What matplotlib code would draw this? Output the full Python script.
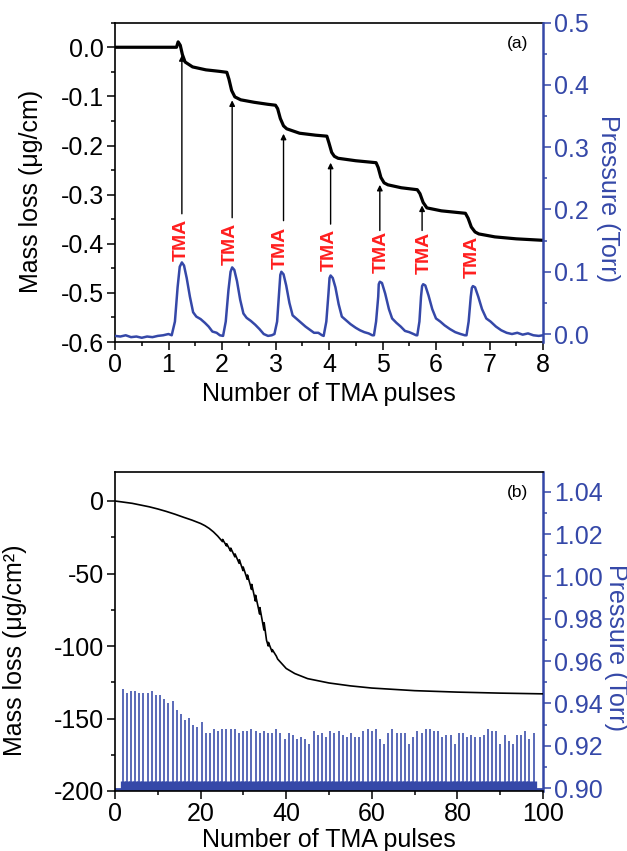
import numpy as np
import matplotlib
matplotlib.use("Agg")
import matplotlib.pyplot as plt
from matplotlib.ticker import MultipleLocator, FormatStrFormatter

plt.rcParams["font.family"] = ["Liberation Sans", "DejaVu Sans"]
plt.rcParams["axes.unicode_minus"] = False

BLUE = "#3548a8"
RED = "#ff1f1f"

# ---- panel (a): mass loss during 7 TMA pulses ----
mass_a_x = [0, 1.15, 1.18, 1.22, 1.26, 1.31, 1.45, 1.7, 1.95, 2.09, 2.13, 2.18, 2.24, 2.35,
            2.6, 2.85, 3.0, 3.04, 3.09, 3.15, 3.21, 3.45, 3.75, 3.96, 4.0, 4.05, 4.1, 4.17,
            4.5, 4.88, 4.92, 4.97, 5.03, 5.1, 5.35, 5.65, 5.7, 5.76, 5.83, 6.1, 6.55, 6.6,
            6.66, 6.73, 6.8, 7.1, 7.5, 8.0]
mass_a_y = [0.0, 0.0, 0.011, 0.004, -0.015, -0.030, -0.040, -0.046, -0.049, -0.051, -0.065,
            -0.088, -0.101, -0.107, -0.112, -0.116, -0.118, -0.125, -0.145, -0.160, -0.166,
            -0.175, -0.179, -0.181, -0.195, -0.214, -0.222, -0.226, -0.231, -0.235, -0.245,
            -0.265, -0.276, -0.280, -0.286, -0.290, -0.298, -0.316, -0.327, -0.333, -0.338,
            -0.348, -0.366, -0.376, -0.380, -0.386, -0.390, -0.393]

pres_a_x = [0.0, 0.1, 0.2, 0.3, 0.4, 0.5, 0.6, 0.7, 0.8, 0.9, 1.0,
            1.06, 1.12, 1.17, 1.21, 1.25, 1.29, 1.34, 1.40, 1.46, 1.52, 1.60, 1.68, 1.75, 1.82, 1.90, 1.96,
            2.02, 2.07, 2.12, 2.16, 2.19, 2.23, 2.28, 2.34, 2.40, 2.46, 2.54, 2.62, 2.70, 2.78, 2.86, 2.93,
            2.98, 3.03, 3.07, 3.09, 3.11, 3.15, 3.20, 3.26, 3.32, 3.40, 3.48, 3.56, 3.64, 3.72, 3.80, 3.87,
            3.90, 3.95, 3.99, 4.01, 4.03, 4.07, 4.12, 4.18, 4.24, 4.32, 4.40, 4.50, 4.58, 4.66, 4.74, 4.81,
            4.84, 4.88, 4.92, 4.93, 4.95, 4.99, 5.05, 5.12, 5.18, 5.26, 5.34, 5.42, 5.50, 5.58, 5.63,
            5.65, 5.69, 5.72, 5.74, 5.76, 5.80, 5.86, 5.93, 6.00, 6.08, 6.16, 6.26, 6.36, 6.46, 6.54,
            6.57, 6.61, 6.65, 6.67, 6.69, 6.73, 6.79, 6.86, 6.94, 7.02, 7.12, 7.22, 7.32, 7.42, 7.52,
            7.62, 7.72, 7.82, 7.92, 8.0]
pres_a_y = [-0.003, -0.004, -0.002, -0.005, -0.004, -0.006, -0.004, -0.005, -0.003, -0.002, 0.000,
            -0.002, 0.020, 0.075, 0.108, 0.115, 0.110, 0.090, 0.060, 0.035, 0.028, 0.024, 0.018, 0.012, 0.004, 0.002, -0.002,
            -0.003, 0.020, 0.070, 0.100, 0.107, 0.103, 0.085, 0.055, 0.033, 0.026, 0.021, 0.015, 0.008, 0.000, -0.003, -0.002,
            0.000, 0.020, 0.070, 0.095, 0.100, 0.096, 0.078, 0.050, 0.030, 0.024, 0.018, 0.012, 0.007, 0.002, 0.002, -0.002,
            -0.003, 0.020, 0.065, 0.090, 0.094, 0.090, 0.075, 0.048, 0.028, 0.022, 0.016, 0.010, 0.006, 0.003, 0.001, -0.002,
            -0.002, 0.020, 0.060, 0.080, 0.084, 0.082, 0.065, 0.040, 0.025, 0.018, 0.012, 0.005, 0.003, 0.000, -0.002,
            -0.002, 0.020, 0.060, 0.077, 0.080, 0.078, 0.062, 0.040, 0.025, 0.020, 0.014, 0.008, 0.003, 0.000, -0.002,
            -0.002, 0.020, 0.060, 0.074, 0.077, 0.075, 0.060, 0.040, 0.025, 0.020, 0.012, 0.006, 0.002, 0.000, 0.002,
            -0.001, 0.001, -0.002, -0.003, -0.002]

# arrows: x, tail (bottom), head (top) in mass units
arrow_x = [1.25, 2.19, 3.15, 4.03, 4.95, 5.74]
arrow_tail = [-0.339, -0.347, -0.353, -0.360, -0.373, -0.373]
arrow_head = [-0.016, -0.108, -0.176, -0.235, -0.280, -0.322]

tma_x = [1.24, 2.15, 3.08, 4.00, 4.97, 5.78, 6.67]
tma_y = [-0.392, -0.400, -0.408, -0.412, -0.416, -0.418, -0.426]

# ---- panel (b): 100 TMA pulses ----
mass_b_x = [0, 4, 8, 10, 12, 14, 16, 18, 20, 21, 22, 23, 24,
            25.1, 25.15, 26.05, 26.1, 27.0, 27.05, 28.0, 28.05, 29.0, 29.05, 29.9, 29.95,
            30.9, 30.95, 31.9, 31.95, 32.8, 32.85, 33.8, 33.85, 34.8, 34.85, 35.4, 35.8, 35.85,
            36.7, 36.75, 37.7, 38, 40, 42, 45, 50, 55, 60, 70, 80, 90, 100]
mass_b_y = [0, -1.6, -4, -5.5, -7.2, -9.1, -11.2, -13.2, -15.5, -17, -18.9, -21.3, -24.2,
            -28, -26.5, -31, -29.5, -34.5, -32.5, -38.5, -36.5, -43, -40.5, -48, -45.5,
            -54, -51, -61, -57.5, -69, -65, -78, -73.5, -89, -84, -96, -100, -97.5,
            -104, -102.5, -107, -109, -115.5, -119, -122.5, -125.5, -127.5, -129, -130.8, -131.8, -132.5, -133]

pulse_b_x = np.linspace(1.8, 97.8, 100)
pulse_b_peak = [0.947, 0.945, 0.946, 0.946, 0.945, 0.945, 0.945, 0.946, 0.944, 0.944,
                0.942, 0.940, 0.941, 0.937, 0.935, 0.932, 0.933, 0.930, 0.929, 0.931,
                0.926, 0.926, 0.928, 0.927, 0.928, 0.928, 0.928, 0.928, 0.926, 0.927,
                0.927, 0.928, 0.927, 0.926, 0.927, 0.926, 0.926, 0.928, 0.926, 0.923,
                0.926, 0.925, 0.923, 0.924, 0.923, 0.921, 0.927, 0.925, 0.926, 0.924,
                0.927, 0.926, 0.927, 0.925, 0.924, 0.926, 0.924, 0.924, 0.927, 0.928,
                0.927, 0.928, 0.923, 0.921, 0.926, 0.928, 0.926, 0.926, 0.926, 0.921,
                0.924, 0.927, 0.926, 0.928, 0.928, 0.927, 0.927, 0.924, 0.925, 0.925,
                0.921, 0.926, 0.926, 0.924, 0.925, 0.924, 0.924, 0.925, 0.928, 0.927,
                0.927, 0.921, 0.925, 0.922, 0.921, 0.925, 0.925, 0.927, 0.923, 0.926]
pulse_b_foot = 0.9035
pulse_b_base = 0.8985

W, H = 627, 851
FS = 18
fig = plt.figure(figsize=(W / 100, H / 100), dpi=100)


def style_axes(ax, axr):
    for s in ["left", "bottom", "top"]:
        ax.spines[s].set_linewidth(1.2)
    ax.spines["right"].set_visible(False)
    for s in ["left", "bottom", "top"]:
        axr.spines[s].set_visible(False)
    axr.spines["right"].set_color(BLUE)
    axr.spines["right"].set_linewidth(1.8)
    ax.tick_params(which="major", direction="out", length=6, width=1.1, labelsize=FS, pad=2,
                   top=False, right=False)
    ax.tick_params(which="minor", direction="out", length=3.2, width=1.1, top=False, right=False)
    axr.tick_params(which="major", direction="out", length=6, width=1.1, labelsize=FS, pad=2,
                    colors=BLUE)
    axr.tick_params(which="minor", direction="out", length=3.2, width=1.1, colors=BLUE)


# panel (a)
ax1 = fig.add_axes([115 / W, 1 - 342 / H, 428 / W, 319.3 / H])
ax1r = ax1.twinx()
ax1.plot(mass_a_x, mass_a_y, color="black", lw=2.3, solid_capstyle="round")
ax1r.plot(pres_a_x, pres_a_y, color=BLUE, lw=1.8)
for x, t, h in zip(arrow_x, arrow_tail, arrow_head):
    ax1.annotate("", xy=(x, h), xytext=(x, t),
                 arrowprops=dict(arrowstyle="-|>", color="black", lw=1.0,
                                 mutation_scale=8, shrinkA=0, shrinkB=0))
for x, y in zip(tma_x, tma_y):
    ax1.text(x, y, "TMA", rotation=90, color=RED, fontsize=14, fontweight="bold",
             ha="center", va="center")
ax1.text(7.72, 0.008, "(a)", fontsize=12.5, ha="right", va="center")

ax1.set_xlim(0, 8)
ax1.set_ylim(-0.6, 0.05)
ax1r.set_ylim(-0.0128, 0.5)
ax1.xaxis.set_major_locator(MultipleLocator(1))
ax1.xaxis.set_minor_locator(MultipleLocator(0.5))
ax1.yaxis.set_major_locator(MultipleLocator(0.1))
ax1.yaxis.set_minor_locator(MultipleLocator(0.05))
ax1.yaxis.set_major_formatter(FormatStrFormatter("%.1f"))
ax1r.yaxis.set_major_locator(MultipleLocator(0.1))
ax1r.yaxis.set_minor_locator(MultipleLocator(0.05))
ax1r.yaxis.set_major_formatter(FormatStrFormatter("%.1f"))
style_axes(ax1, ax1r)
ax1.set_xlabel("Number of TMA pulses", fontsize=FS)
ax1.xaxis.set_label_coords(0.5, -0.125)
ax1.set_ylabel("Mass loss (μg/cm)", fontsize=FS)
ax1.yaxis.set_label_coords(-0.168, 0.47)
ax1r.set_ylabel("Pressure (Torr)", fontsize=FS, color=BLUE, rotation=270, va="center")
ax1r.yaxis.set_label_coords(1.152, 0.45)

# panel (b)
ax2 = fig.add_axes([115 / W, 1 - 791 / H, 428 / W, 319 / H])
ax2r = ax2.twinx()
ax2r.vlines(pulse_b_x, pulse_b_base, pulse_b_foot, color=BLUE, lw=3.8)
ax2r.vlines(pulse_b_x, pulse_b_base, pulse_b_peak, color=BLUE, lw=1.15)
ax2r.plot([0, 100], [pulse_b_base + 0.0012, pulse_b_base + 0.0012], color=BLUE, lw=2)
ax2.plot(mass_b_x, mass_b_y, color="black", lw=1.2)
ax2.set_zorder(ax2r.get_zorder() + 1)
ax2.patch.set_visible(False)
ax2.text(96.5, 6.2, "(b)", fontsize=12.5, ha="right", va="center")

ax2.set_xlim(0, 100)
ax2.set_ylim(-200, 20)
ax2r.set_ylim(0.8986, 1.0493)
ax2.xaxis.set_major_locator(MultipleLocator(20))
ax2.xaxis.set_minor_locator(MultipleLocator(10))
ax2.yaxis.set_major_locator(MultipleLocator(50))
ax2.yaxis.set_minor_locator(MultipleLocator(25))
ax2r.yaxis.set_major_locator(MultipleLocator(0.02))
ax2r.yaxis.set_minor_locator(MultipleLocator(0.01))
ax2r.yaxis.set_major_formatter(FormatStrFormatter("%.2f"))
style_axes(ax2, ax2r)
ax2.set_xlabel("Number of TMA pulses", fontsize=FS, va="bottom")
ax2.xaxis.set_label_coords(0.5, -0.19)
ax2.set_ylabel("Mass loss (μg/cm²)", fontsize=FS)
ax2.yaxis.set_label_coords(-0.206, 0.44)
ax2r.set_ylabel("Pressure (Torr)", fontsize=FS, color=BLUE, rotation=270, va="center")
ax2r.yaxis.set_label_coords(1.17, 0.45)

fig.savefig("out.png", dpi=100)
